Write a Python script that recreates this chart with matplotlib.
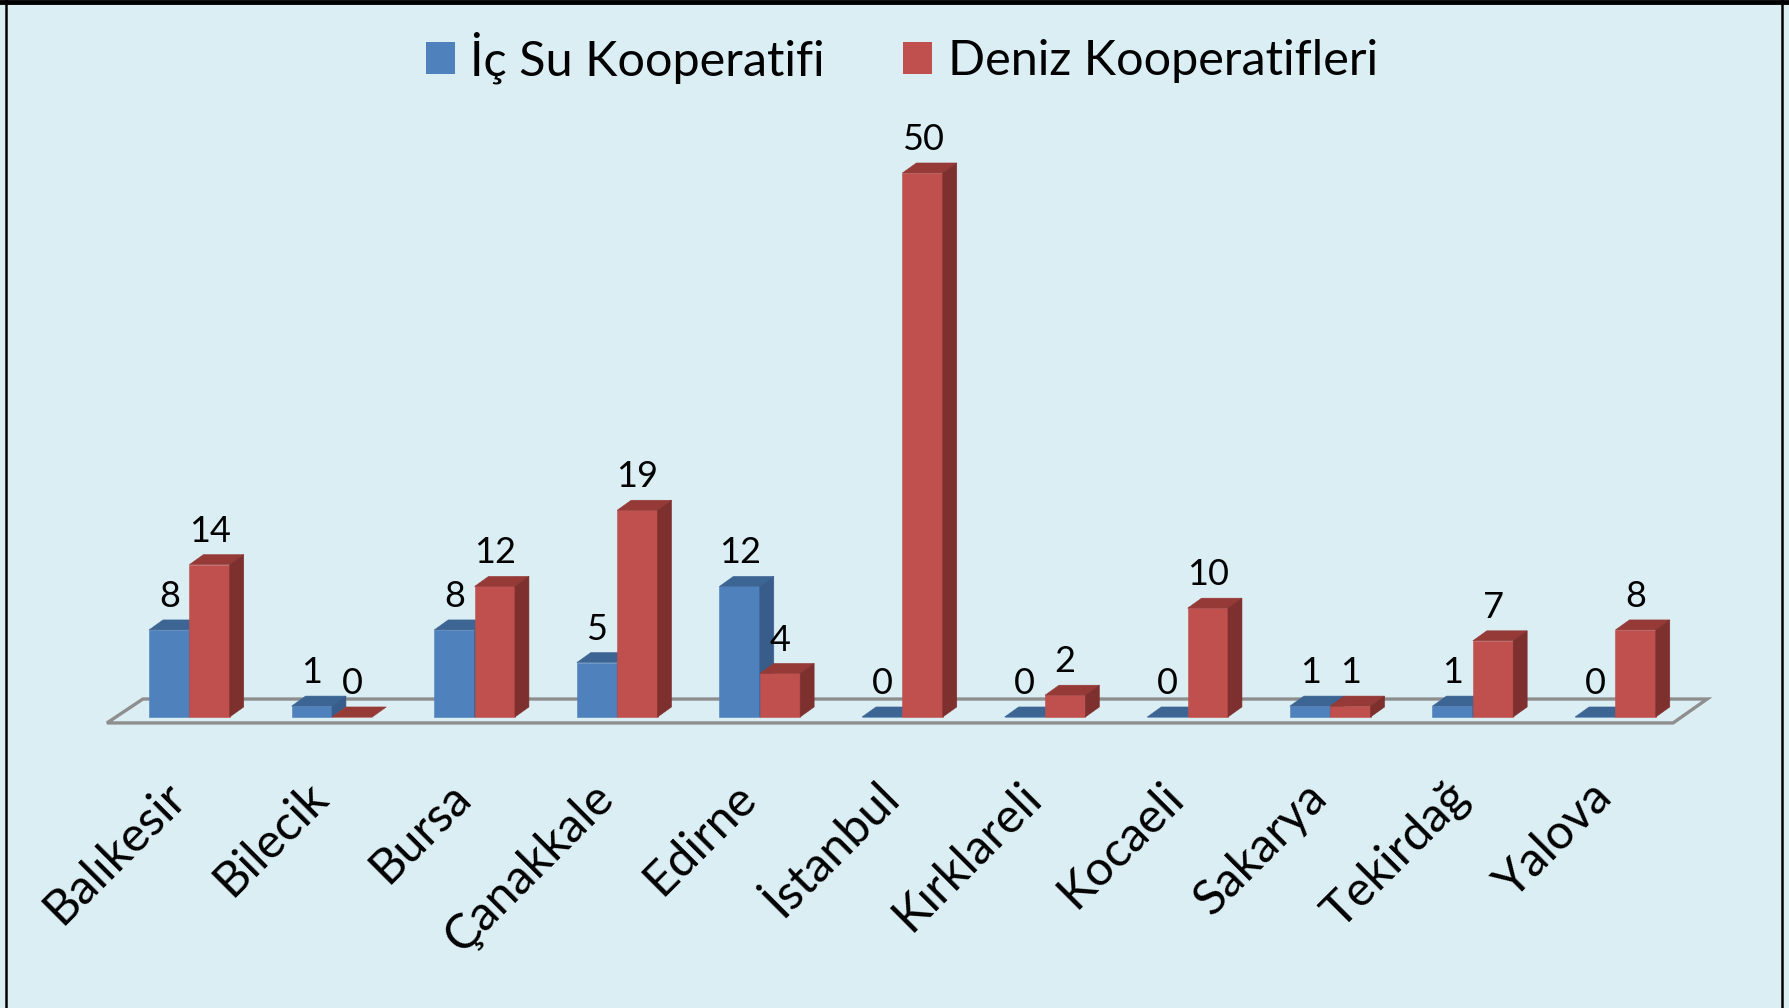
import matplotlib.pyplot as plt
from matplotlib.patches import Polygon, Patch
from matplotlib.lines import Line2D

# data
cities = ["Balıkesir", "Bilecik", "Bursa", "Çanakkale", "Edirne", "İstanbul",
          "Kırklareli", "Kocaeli", "Sakarya", "Tekirdağ", "Yalova"]
ic_su = [8, 1, 8, 5, 12, 0, 0, 0, 1, 1, 0]
deniz = [14, 0, 12, 19, 4, 50, 2, 10, 1, 7, 8]
series_names = ["İç Su Kooperatifi", "Deniz Kooperatifleri"]

BG = "#DBEEF4"
BLUE = ("#4F81BD", "#3D6594", "#385D8A")   # front, top, side
RED = ("#C0504D", "#953A37", "#7D302D")

W = 0.283     # bar width
DX = 0.098    # depth in x
DY = 0.92     # depth in y

plt.rcParams['font.family'] = ['Lato', 'DejaVu Sans']

fig = plt.figure(figsize=(17.89, 10.08), dpi=100)
fig.patch.set_facecolor(BG)
ax = fig.add_axes([0, 0, 1, 1])
ax.set_facecolor(BG)
ax.set_xlim(-1.328, 11.217)
ax.set_ylim(-26.75, 65.9)
ax.axis('off')

# floor
n = len(cities)
floor = Polygon([(-0.578, -0.55), (n - 1 + 0.404, -0.55),
                 (n - 1 + 0.643, 1.65), (-0.326, 1.65)],
                closed=True, fill=False, edgecolor="#8E8E8E", linewidth=2.4, zorder=1)
ax.add_patch(floor)


def bar3d(x0, v, cols, z):
    front, top, side = cols
    ax.bar(x0, v, width=W, align='edge', color=front, edgecolor=front,
           linewidth=0.4, zorder=z)
    ax.add_patch(Polygon([(x0, v), (x0 + W, v), (x0 + W + DX, v + DY), (x0 + DX, v + DY)],
                         closed=True, facecolor=top, edgecolor=top, linewidth=0.4, zorder=z))
    if v > 0:
        ax.add_patch(Polygon([(x0 + W, 0), (x0 + W + DX, DY), (x0 + W + DX, v + DY), (x0 + W, v)],
                             closed=True, facecolor=side, edgecolor=side, linewidth=0.4, zorder=z))


for i in range(n):
    bar3d(i - W, ic_su[i], BLUE, 2)
    bar3d(i, deniz[i], RED, 3)
    for x0, v in [(i - W, ic_su[i]), (i, deniz[i])]:
        ax.annotate(str(v), (x0 + W / 2, v), xytext=(0, 16.5), textcoords='offset points',
                    ha='center', va='baseline', fontsize=26, zorder=5)
    ax.text(i - 0.01, -7.6, cities[i], rotation=45, rotation_mode='anchor',
            ha='right', va='baseline', fontsize=35)

handles = [Patch(facecolor=BLUE[0]), Patch(facecolor=RED[0])]
ax.legend(handles, series_names, loc='center', bbox_to_anchor=(0.504, 0.943),
          ncol=2, frameon=False, fontsize=35, handlelength=0.6, handleheight=0.62,
          handletextpad=0.32, columnspacing=1.6, borderpad=0)

# chart frame
fig.add_artist(Line2D([0, 1], [0.9985, 0.9985], color='black', linewidth=3.5))
fig.add_artist(Line2D([0.0036, 0.0036], [0, 1], color='black', linewidth=1.8))
fig.add_artist(Line2D([0.9963, 0.9963], [0, 1], color='black', linewidth=1.8))

fig.savefig("out.png", dpi=100, facecolor=BG)
